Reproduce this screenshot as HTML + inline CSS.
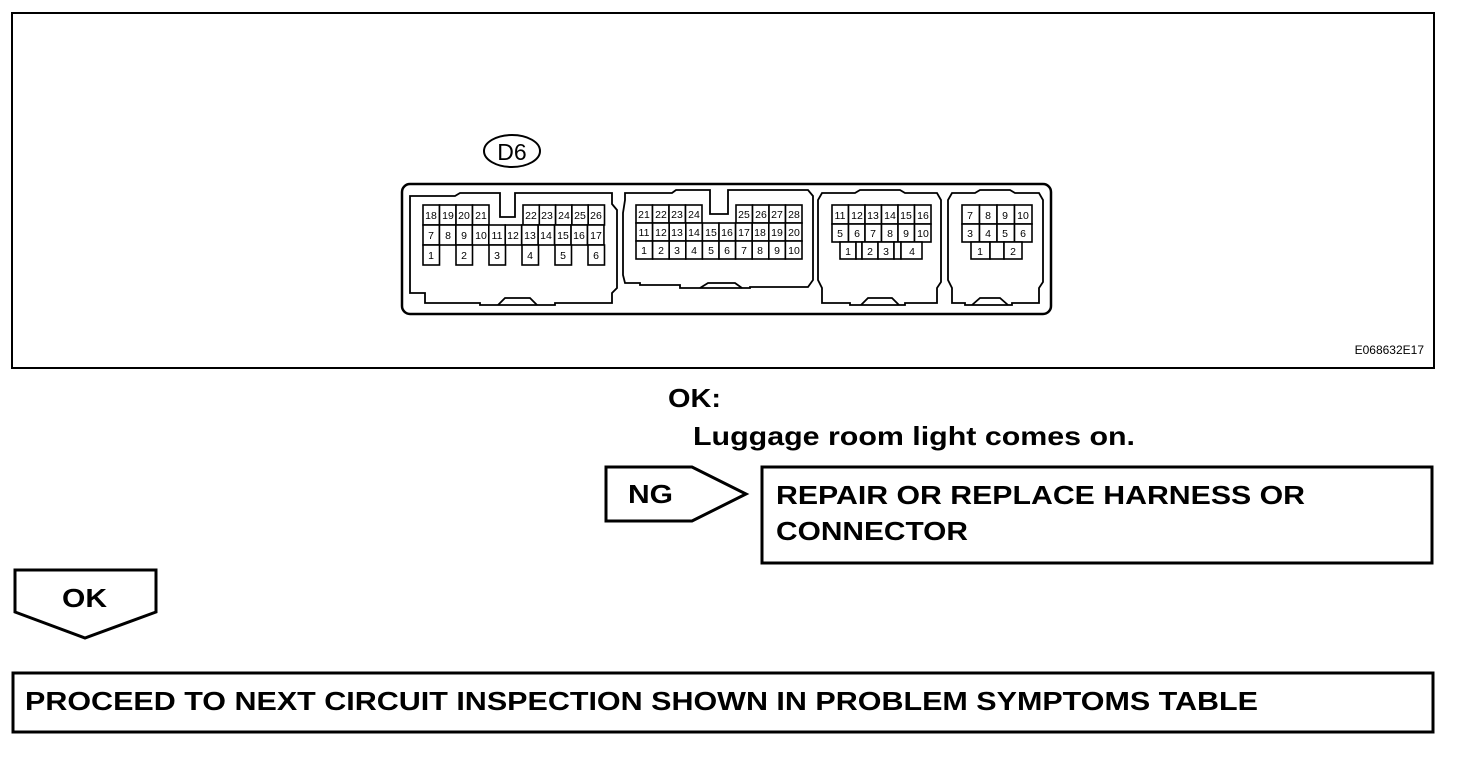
<!DOCTYPE html>
<html><head><meta charset="utf-8"><style>
html,body{margin:0;padding:0;background:#fff}
svg{display:block}
.c rect{fill:#fff;stroke:#000;stroke-width:1.6}
.c text{font-family:"Liberation Sans",sans-serif;font-size:10.5px;text-anchor:middle}
.h{fill:none;stroke:#000;stroke-width:1.8}
.b{font-family:"Liberation Sans",sans-serif;font-weight:bold;font-size:26px}
</style></head><body>
<svg width="1472" height="768" viewBox="0 0 1472 768" xmlns="http://www.w3.org/2000/svg">
<rect x="12" y="13" width="1422" height="355" fill="none" stroke="#000" stroke-width="2"/>
<ellipse cx="512" cy="151" rx="28" ry="16" fill="none" stroke="#000" stroke-width="2"/>
<text x="512" y="160" font-family="Liberation Sans,sans-serif" font-size="23" text-anchor="middle">D6</text>
<rect x="402" y="184" width="649" height="130" rx="8" fill="none" stroke="#000" stroke-width="2.5"/>
<path class="h" d="M410,196 L455,196 L460,193 L500,193 L500,217 L515,217 L515,193 L612,193 L612,204 L617,210 L617,288 L612,293 L612,303 L555,303 L555,305 L480,305 L480,303 L425,303 L425,293 L410,293 Z"/>
<path class="h" d="M498,305 L505,298 L530,298 L537,305"/>
<path class="h" d="M625,193 L672,193 L676,190 L710,190 L710,214 L728,214 L728,190 L808,190 L813,196 L813,280 L808,287 L750,287 L750,288 L680,288 L680,285 L640,285 L640,283 L625,283 L623,275 L623,213 L625,200 Z"/>
<path class="h" d="M700,288 L708,283 L735,283 L742,288"/>
<path class="h" d="M822,193 L855,193 L860,190 L900,190 L905,193 L937,193 L941,200 L941,282 L937,288 L937,303 L905,303 L905,305 L850,305 L850,303 L822,303 L822,288 L818,280 L818,200 Z"/>
<path class="h" d="M861,305 L868,298 L892,298 L899,305"/>
<path class="h" d="M952,193 L975,193 L980,190 L1010,190 L1015,193 L1039,193 L1043,200 L1043,282 L1039,288 L1039,303 L1012,303 L1012,305 L965,305 L965,303 L952,303 L952,288 L948,280 L948,200 Z"/>
<path class="h" d="M972,305 L980,298 L1000,298 L1008,305"/>
<g class="c">
<rect x="423" y="205" width="16.5" height="20"/><text x="431" y="219">18</text>
<rect x="439.5" y="205" width="16.5" height="20"/><text x="448" y="219">19</text>
<rect x="456" y="205" width="16.5" height="20"/><text x="464" y="219">20</text>
<rect x="472.5" y="205" width="16.5" height="20"/><text x="481" y="219">21</text>
<rect x="523" y="205" width="16.3" height="20"/><text x="531" y="219">22</text>
<rect x="539.3" y="205" width="16.3" height="20"/><text x="547" y="219">23</text>
<rect x="555.6" y="205" width="16.3" height="20"/><text x="564" y="219">24</text>
<rect x="571.9" y="205" width="16.3" height="20"/><text x="580" y="219">25</text>
<rect x="588.2" y="205" width="16.3" height="20"/><text x="596" y="219">26</text>
<rect x="423" y="225" width="16.45" height="20"/><text x="431" y="239">7</text>
<rect x="439.45" y="225" width="16.45" height="20"/><text x="448" y="239">8</text>
<rect x="455.9" y="225" width="16.45" height="20"/><text x="464" y="239">9</text>
<rect x="472.35" y="225" width="16.45" height="20"/><text x="481" y="239">10</text>
<rect x="488.8" y="225" width="16.45" height="20"/><text x="497" y="239">11</text>
<rect x="505.25" y="225" width="16.45" height="20"/><text x="513" y="239">12</text>
<rect x="521.7" y="225" width="16.45" height="20"/><text x="530" y="239">13</text>
<rect x="538.15" y="225" width="16.45" height="20"/><text x="546" y="239">14</text>
<rect x="554.6" y="225" width="16.45" height="20"/><text x="563" y="239">15</text>
<rect x="571.05" y="225" width="16.45" height="20"/><text x="579" y="239">16</text>
<rect x="587.5" y="225" width="16.45" height="20"/><text x="596" y="239">17</text>
<rect x="423" y="245" width="16.5" height="20"/><text x="431" y="259">1</text>
<rect x="456" y="245" width="16.5" height="20"/><text x="464" y="259">2</text>
<rect x="489" y="245" width="16.5" height="20"/><text x="497" y="259">3</text>
<rect x="522" y="245" width="16.5" height="20"/><text x="530" y="259">4</text>
<rect x="555" y="245" width="16.5" height="20"/><text x="563" y="259">5</text>
<rect x="588" y="245" width="16.5" height="20"/><text x="596" y="259">6</text>
<rect x="636" y="205" width="16.5" height="18"/><text x="644" y="218">21</text>
<rect x="652.5" y="205" width="16.5" height="18"/><text x="661" y="218">22</text>
<rect x="669" y="205" width="16.5" height="18"/><text x="677" y="218">23</text>
<rect x="685.5" y="205" width="16.5" height="18"/><text x="694" y="218">24</text>
<rect x="736" y="205" width="16.5" height="18"/><text x="744" y="218">25</text>
<rect x="752.5" y="205" width="16.5" height="18"/><text x="761" y="218">26</text>
<rect x="769" y="205" width="16.5" height="18"/><text x="777" y="218">27</text>
<rect x="785.5" y="205" width="16.5" height="18"/><text x="794" y="218">28</text>
<rect x="636" y="223" width="16.6" height="18"/><text x="644" y="236">11</text>
<rect x="652.6" y="223" width="16.6" height="18"/><text x="661" y="236">12</text>
<rect x="669.2" y="223" width="16.6" height="18"/><text x="677" y="236">13</text>
<rect x="685.8" y="223" width="16.6" height="18"/><text x="694" y="236">14</text>
<rect x="702.4" y="223" width="16.6" height="18"/><text x="711" y="236">15</text>
<rect x="719" y="223" width="16.6" height="18"/><text x="727" y="236">16</text>
<rect x="735.6" y="223" width="16.6" height="18"/><text x="744" y="236">17</text>
<rect x="752.2" y="223" width="16.6" height="18"/><text x="760" y="236">18</text>
<rect x="768.8" y="223" width="16.6" height="18"/><text x="777" y="236">19</text>
<rect x="785.4" y="223" width="16.6" height="18"/><text x="794" y="236">20</text>
<rect x="636" y="241" width="16.6" height="18"/><text x="644" y="254">1</text>
<rect x="652.6" y="241" width="16.6" height="18"/><text x="661" y="254">2</text>
<rect x="669.2" y="241" width="16.6" height="18"/><text x="677" y="254">3</text>
<rect x="685.8" y="241" width="16.6" height="18"/><text x="694" y="254">4</text>
<rect x="702.4" y="241" width="16.6" height="18"/><text x="711" y="254">5</text>
<rect x="719" y="241" width="16.6" height="18"/><text x="727" y="254">6</text>
<rect x="735.6" y="241" width="16.6" height="18"/><text x="744" y="254">7</text>
<rect x="752.2" y="241" width="16.6" height="18"/><text x="760" y="254">8</text>
<rect x="768.8" y="241" width="16.6" height="18"/><text x="777" y="254">9</text>
<rect x="785.4" y="241" width="16.6" height="18"/><text x="794" y="254">10</text>
<rect x="832" y="205" width="16.5" height="19"/><text x="840" y="219">11</text>
<rect x="848.5" y="205" width="16.5" height="19"/><text x="857" y="219">12</text>
<rect x="865" y="205" width="16.5" height="19"/><text x="873" y="219">13</text>
<rect x="881.5" y="205" width="16.5" height="19"/><text x="890" y="219">14</text>
<rect x="898" y="205" width="16.5" height="19"/><text x="906" y="219">15</text>
<rect x="914.5" y="205" width="16.5" height="19"/><text x="923" y="219">16</text>
<rect x="832" y="224" width="16.5" height="18"/><text x="840" y="237">5</text>
<rect x="848.5" y="224" width="16.5" height="18"/><text x="857" y="237">6</text>
<rect x="865" y="224" width="16.5" height="18"/><text x="873" y="237">7</text>
<rect x="881.5" y="224" width="16.5" height="18"/><text x="890" y="237">8</text>
<rect x="898" y="224" width="16.5" height="18"/><text x="906" y="237">9</text>
<rect x="914.5" y="224" width="16.5" height="18"/><text x="923" y="237">10</text>
<rect x="840" y="242" width="16" height="17"/><text x="848" y="255">1</text>
<rect x="856" y="242" width="6" height="17"/>
<rect x="862" y="242" width="16" height="17"/><text x="870" y="255">2</text>
<rect x="878" y="242" width="16" height="17"/><text x="886" y="255">3</text>
<rect x="894" y="242" width="7" height="17"/>
<rect x="901" y="242" width="21" height="17"/><text x="912" y="255">4</text>
<rect x="962" y="205" width="17.5" height="19"/><text x="970" y="219">7</text>
<rect x="979.5" y="205" width="17.5" height="19"/><text x="988" y="219">8</text>
<rect x="997" y="205" width="17.5" height="19"/><text x="1005" y="219">9</text>
<rect x="1014.5" y="205" width="17.5" height="19"/><text x="1023" y="219">10</text>
<rect x="962" y="224" width="17.5" height="18"/><text x="970" y="237">3</text>
<rect x="979.5" y="224" width="17.5" height="18"/><text x="988" y="237">4</text>
<rect x="997" y="224" width="17.5" height="18"/><text x="1005" y="237">5</text>
<rect x="1014.5" y="224" width="17.5" height="18"/><text x="1023" y="237">6</text>
<rect x="971" y="242" width="19" height="17"/><text x="980" y="255">1</text>
<rect x="990" y="242" width="14" height="17"/>
<rect x="1004" y="242" width="18" height="17"/><text x="1013" y="255">2</text>
</g>
<text x="1424" y="354" font-family="Liberation Sans,sans-serif" font-size="12" text-anchor="end">E068632E17</text>
<text x="668" y="407" class="b" textLength="53" lengthAdjust="spacingAndGlyphs">OK:</text>
<text x="693" y="445" class="b" textLength="442" lengthAdjust="spacingAndGlyphs">Luggage room light comes on.</text>
<path d="M606,467 L692,467 L746,494 L692,521 L606,521 Z" fill="none" stroke="#000" stroke-width="3"/>
<text x="628" y="503" class="b" textLength="45" lengthAdjust="spacingAndGlyphs">NG</text>
<rect x="762" y="467" width="670" height="96" fill="none" stroke="#000" stroke-width="3"/>
<text x="776" y="504" class="b" textLength="529" lengthAdjust="spacingAndGlyphs">REPAIR OR REPLACE HARNESS OR</text>
<text x="776" y="540" class="b" textLength="192" lengthAdjust="spacingAndGlyphs">CONNECTOR</text>
<path d="M15,570 L156,570 L156,612 L85,638 L15,612 Z" fill="none" stroke="#000" stroke-width="3"/>
<text x="62" y="607" class="b" textLength="45" lengthAdjust="spacingAndGlyphs">OK</text>
<rect x="13" y="673" width="1420" height="59" fill="none" stroke="#000" stroke-width="3"/>
<text x="25" y="710" class="b" textLength="1233" lengthAdjust="spacingAndGlyphs">PROCEED TO NEXT CIRCUIT INSPECTION SHOWN IN PROBLEM SYMPTOMS TABLE</text>
</svg>
</body></html>
